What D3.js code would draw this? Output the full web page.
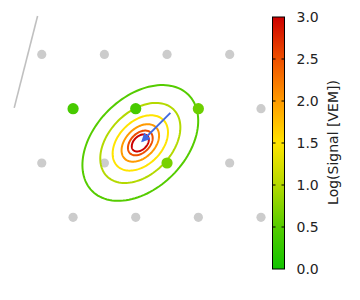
<!DOCTYPE html>
<html>
<head>
<meta charset="utf-8">
<script src="https://cdn.jsdelivr.net/npm/d3@7"></script>
<style>
  body { margin: 0; background: #fff; }
  svg text { font-family: "DejaVu Sans", sans-serif; }
</style>
</head>
<body>
<div id="chart"></div>
<script>
// station positions (km) on the triangular grid
var stationX = [-1.5, 0, 1.5, 3.0, -0.75, 0.75, 2.25, 3.75, -1.5, 0, 1.5, 3.0, -0.75, 0.75, 2.25, 3.75];
var stationY = [2.6, 2.6, 2.6, 2.6, 1.3, 1.3, 1.3, 1.3, 0, 0, 0, 0, -1.3, -1.3, -1.3, -1.3];

// triggered stations and their log signal
var hitX = [-0.75, 0.75, 2.25, 1.5];
var hitY = [1.3, 1.3, 1.3, 0];
var hitSignal = [0.4, 0.4, 0.62, 0.68];

// contour levels of log signal with ellipse semi axes (km)
var levels = [0.5, 1.0, 1.5, 2.0, 2.5, 3.0];
var majorAxis = [1.63, 1.13, 0.78, 0.53, 0.35, 0.24];
var minorAxis = [1.09, 0.75, 0.52, 0.35, 0.23, 0.16];
var contourCenter = [0.86, 0.48];
var axisAngle = 45;

// shower core and axis projection
var core = [0.91, 0.53];
var axisEnd = [1.58, 1.2];

// grey line (other reconstruction)
var lineX = [-1.6, -2.16];
var lineY = [3.52, 1.32];

var cbarTicks = [0.0, 0.5, 1.0, 1.5, 2.0, 2.5, 3.0];

var W = 360, H = 300;
var k = 41.76;

var svg = d3.select("#chart").append("svg")
  .attr("width", W)
  .attr("height", H);

var xScale = d3.scaleLinear().domain([-2.5, 3.75]).range([104.4 - 2.5 * k, 104.4 + 3.75 * k]);
var yScale = d3.scaleLinear().domain([-3, 4]).range([163 + 3 * k, 163 - 4 * k]);

var color = d3.scaleLinear()
  .domain([0, 0.5, 1.0, 1.5, 2.0, 2.5, 3.0])
  .range(["#11c400", "#55cc00", "#b4d900", "#ffe400", "#ff9a00", "#ee5000", "#cc0000"]);

// grey line
svg.append("line")
  .attr("x1", xScale(lineX[0]))
  .attr("y1", yScale(lineY[0]))
  .attr("x2", xScale(lineX[1]))
  .attr("y2", yScale(lineY[1]))
  .attr("stroke", "#c0c0c0")
  .attr("stroke-width", 1.6);

// all stations
svg.selectAll("circle.st")
  .data(stationX)
  .enter()
  .append("circle")
  .attr("class", "st")
  .attr("cx", (d) => xScale(d))
  .attr("cy", (d, i) => yScale(stationY[i]))
  .attr("r", 4.6)
  .attr("fill", "#cccccc");

// contour ellipses
var rad = axisAngle * Math.PI / 180;
var ellipse = d3.line()
  .x((p) => xScale(p[0]))
  .y((p) => yScale(p[1]))
  .curve(d3.curveLinearClosed);

svg.selectAll("path.contour")
  .data(levels)
  .enter()
  .append("path")
  .attr("class", "contour")
  .attr("d", function(d, i) {
    var a = majorAxis[i], b = minorAxis[i];
    var pts = d3.range(120).map(function(j) {
      var t = j / 120 * 2 * Math.PI;
      var u = a * Math.cos(t), v = b * Math.sin(t);
      return [contourCenter[0] + u * Math.cos(rad) - v * Math.sin(rad),
              contourCenter[1] + u * Math.sin(rad) + v * Math.cos(rad)];
    });
    return ellipse(pts);
  })
  .attr("fill", "none")
  .attr("stroke", (d) => color(d))
  .attr("stroke-width", 2);

// triggered stations
svg.selectAll("circle.hit")
  .data(hitSignal)
  .enter()
  .append("circle")
  .attr("class", "hit")
  .attr("cx", (d, i) => xScale(hitX[i]))
  .attr("cy", (d, i) => yScale(hitY[i]))
  .attr("r", 5.6)
  .attr("fill", (d) => color(d));

// shower axis arrow
svg.append("defs").append("marker")
  .attr("id", "head")
  .attr("viewBox", "0 0 10 10")
  .attr("refX", 8)
  .attr("refY", 5)
  .attr("markerWidth", 4.5)
  .attr("markerHeight", 4.5)
  .attr("markerUnits", "strokeWidth")
  .attr("orient", "auto")
  .append("path")
  .attr("d", "M0,0 L10,5 L0,10 z")
  .attr("fill", "#4169e1");

svg.append("line")
  .attr("x1", xScale(axisEnd[0]))
  .attr("y1", yScale(axisEnd[1]))
  .attr("x2", xScale(core[0]))
  .attr("y2", yScale(core[1]))
  .attr("stroke", "#4169e1")
  .attr("stroke-width", 2)
  .attr("marker-end", "url(#head)");

// colour bar
var cbX = 272.5, cbW = 12;
var cbScale = d3.scaleLinear().domain([0, 3]).range([269, 17]);

var grad = svg.select("defs").append("linearGradient")
  .attr("id", "cbar")
  .attr("x1", 0).attr("y1", 1)
  .attr("x2", 0).attr("y2", 0);

grad.selectAll("stop")
  .data(d3.range(0, 3.01, 0.25))
  .enter()
  .append("stop")
  .attr("offset", (d) => d / 3)
  .attr("stop-color", (d) => color(d));

svg.append("rect")
  .attr("x", cbX)
  .attr("y", cbScale(3))
  .attr("width", cbW)
  .attr("height", cbScale(0) - cbScale(3))
  .attr("fill", "url(#cbar)")
  .attr("stroke", "#000")
  .attr("stroke-width", 1);

var tk = svg.append("g");
tk.selectAll("line.l")
  .data(cbarTicks.slice(1, -1))
  .enter()
  .append("line")
  .attr("x1", cbX).attr("x2", cbX + 3)
  .attr("y1", (d) => cbScale(d)).attr("y2", (d) => cbScale(d))
  .attr("stroke", "#000");
tk.selectAll("line.r")
  .data(cbarTicks.slice(1, -1))
  .enter()
  .append("line")
  .attr("x1", cbX + cbW - 3).attr("x2", cbX + cbW)
  .attr("y1", (d) => cbScale(d)).attr("y2", (d) => cbScale(d))
  .attr("stroke", "#000");

svg.append("g")
  .attr("transform", "translate(" + (cbX + cbW) + ",0)")
  .call(d3.axisRight(cbScale).tickValues(cbarTicks).tickFormat(d3.format(".1f")).tickSize(0).tickPadding(12))
  .call((g) => g.select(".domain").remove())
  .selectAll("text")
  .attr("font-size", 14)
  .attr("font-family", "DejaVu Sans")
  .attr("fill", "#222");

svg.append("text")
  .attr("transform", "translate(337.5," + 142.5 + ") rotate(-90)")
  .attr("text-anchor", "middle")
  .attr("font-size", 14)
  .attr("fill", "#222")
  .text("Log(Signal [VEM])");
</script>
</body>
</html>
